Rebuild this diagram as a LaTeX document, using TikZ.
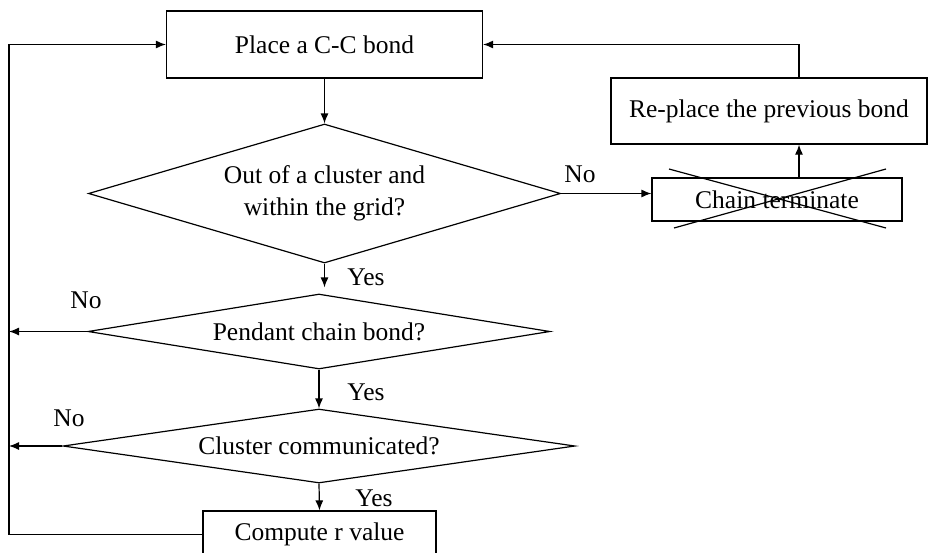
\documentclass[tikz,border=0pt]{standalone}
\usepackage{fontspec}
\setmainfont{Liberation Serif}
\usetikzlibrary{shapes.geometric,arrows.meta}
\begin{document}
\begin{tikzpicture}[x=1pt,y=-1pt,
  font=\fontsize{25.5}{32}\selectfont,
  procbox/.style={draw, line width=1.2pt, inner sep=0pt},
  decision/.style={draw, diamond, line width=1.2pt, inner sep=0pt, align=center},
  flow/.style={line width=1.2pt, -{Latex[length=10pt,width=8pt]}},
  link/.style={line width=1.2pt},
  tag/.style={inner sep=0pt}]
\useasboundingbox (0,0) rectangle (928,552);

% process boxes
\node[procbox, minimum width=316pt, minimum height=67pt] (place) at (324.5,44.5) {Place a C-C bond};
\node[procbox, minimum width=316pt, minimum height=66pt] (replace) at (769,111) {Re-place the previous bond};
\node[procbox, minimum width=250pt, minimum height=43pt] (chain) at (777,199.5) {Chain terminate};
\node[procbox, minimum width=233pt, minimum height=47pt] (compute) at (319.5,534.5) {Compute r value};

% decisions
\node[decision, aspect=3.4, minimum width=472pt, minimum height=139pt] (d1) at (324.5,193.5) {Out of a cluster and\\within the grid?};
\node[decision, aspect=6, minimum width=462pt, minimum height=75pt] (d2) at (319,331.5) {Pendant chain bond?};
\node[decision, aspect=6.5, minimum width=512pt, minimum height=74pt] (d3) at (319,446) {Cluster communicated?};

% struck-out terminal
\draw[link] (669,169) -- (886,228) (674,228) -- (886,169);

% branch labels
\node[tag] (no1) at (580,174) {No};
\node[tag] (yes1) at (366,277) {Yes};
\node[tag] (no2) at (86,300) {No};
\node[tag] (yes2) at (366,392) {Yes};
\node[tag] (no3) at (69,418) {No};
\node[tag] (yes3) at (374,498) {Yes};

% return rail on the left
\coordinate (rail) at (9,0);

% connectors
\draw[flow] (place.south) -- (d1.north);
\draw[flow] (d1.east) -- (d1.east -| chain.west);
\draw[flow] ([xshift=22pt]chain.north) -- ([xshift=22pt]chain.north |- replace.south);
\draw[flow] ([xshift=30pt]replace.north) |- (place.east);
\draw[flow, shorten >=6pt] (d1.south) -- (d1.south |- d2.north);
\draw[flow] (d2.south) -- (d3.north);
\draw[flow] (d3.south) -- (compute.north);
\draw[flow] (d2.west) -- (d2.west -| rail);
\draw[flow] (d3.west) -- (d3.west -| rail);
\draw[flow] (compute.west) -- (compute.west -| rail) |- (place.west);
\end{tikzpicture}
\end{document}
